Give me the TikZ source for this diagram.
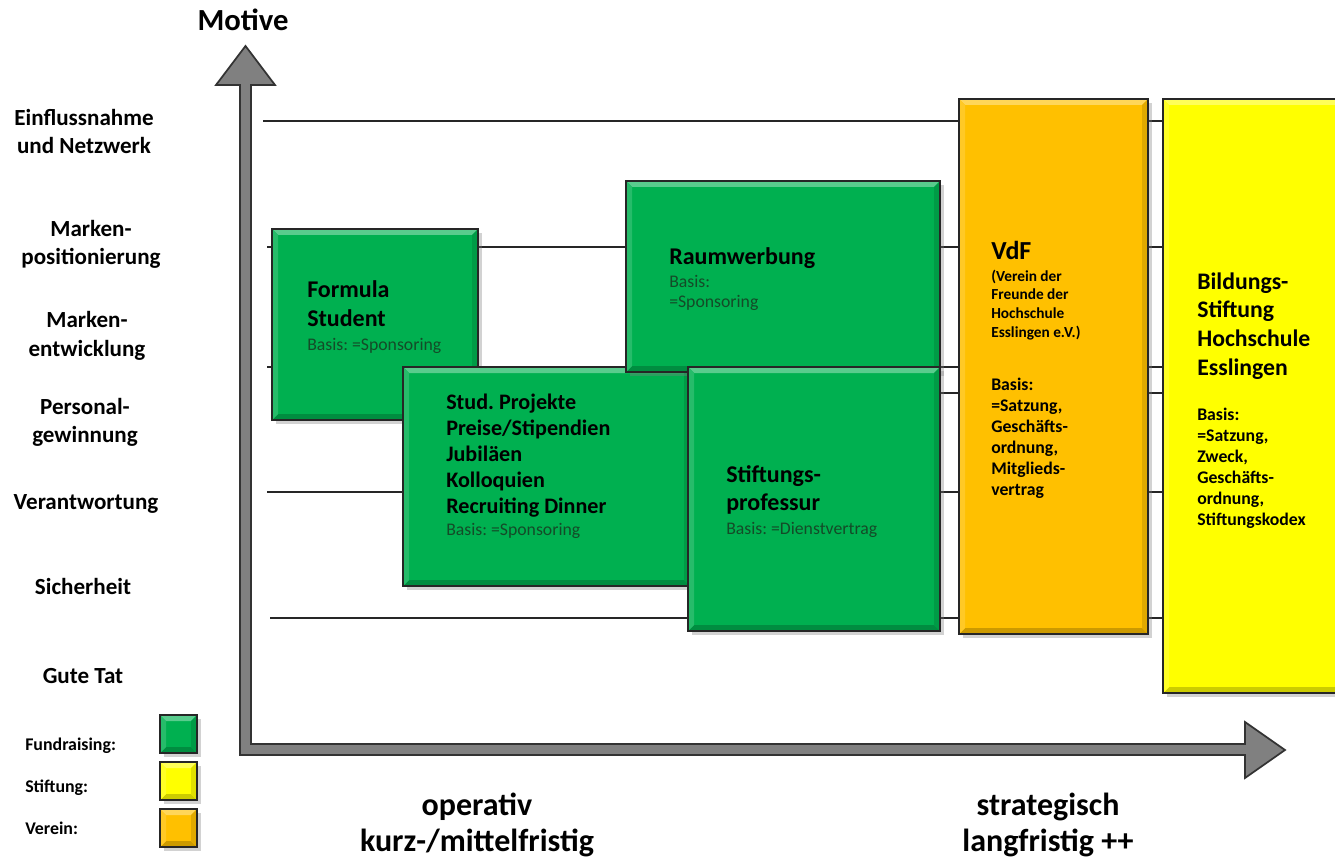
\documentclass[tikz,border=0pt]{standalone}
\usepackage{fontspec}
\setmainfont{Carlito}
\usetikzlibrary{shadows}
\frenchspacing

\definecolor{fundgreen}{RGB}{0,176,80}
\definecolor{vereinorange}{RGB}{255,192,0}
\definecolor{stiftyellow}{RGB}{255,255,0}
\definecolor{basisgreen}{RGB}{20,75,40}
\definecolor{axisgray}{RGB}{128,128,128}

% bevelled box: top-left (#1,#2), bottom-right (#3,#4), fill colour #5
\newcommand{\bevelbox}[5]{%
  \fill[#5,drop shadow={opacity=0.35,shadow xshift=3pt,shadow yshift=-3pt}] (#1,#2) rectangle (#3,#4);
  \fill[#5!65!white] (#1,#2) -- (#3,#2) -- (#3-6,#2+6) -- (#1+6,#2+6) -- cycle;
  \fill[#5!80!black] (#1,#4) -- (#3,#4) -- (#3-6,#4-6) -- (#1+6,#4-6) -- cycle;
  \fill[#5!88!black] (#3,#2) -- (#3,#4) -- (#3-6,#4-6) -- (#3-6,#2+6) -- cycle;
  \fill[#5!85!white] (#1,#2) -- (#1,#4) -- (#1+6,#4-6) -- (#1+6,#2+6) -- cycle;
  \draw[line width=1.3pt,black!85] (#1,#2) rectangle (#3,#4);
}

\begin{document}
\begin{tikzpicture}[x=0.75pt,y=-0.75pt,
  motiv/.style={font={\bfseries\fontsize{17.3}{21}\selectfont},align=center,anchor=base,inner sep=0},
  ttl/.style={font={\bfseries\fontsize{18}{21}\selectfont},align=left,anchor=base west,inner sep=0},
  bigttl/.style={font={\bfseries\fontsize{17.8}{21.4}\selectfont},align=left,anchor=base west,inner sep=0},
  basis/.style={font={\fontsize{13.3}{15.75}\selectfont},text=basisgreen,align=left,anchor=base west,inner sep=0},
  basisbf/.style={font={\bfseries\fontsize{13.3}{15.75}\selectfont},align=left,anchor=base west,inner sep=0},
  legend/.style={font={\bfseries\fontsize{13.4}{15}\selectfont},anchor=base west,inner sep=0},
  timeline/.style={font={\bfseries\fontsize{24}{27}\selectfont},align=center,anchor=base,inner sep=0},
  motivline/.style={line width=1.2pt,black!85}]

  \useasboundingbox (0,0) rectangle (1335,859);
  \fill[white] (0,0) rectangle (1335,859);

  % Motive levels
  \draw[motivline] (263,121) -- (1345,121);
  \draw[motivline] (267,247) -- (1345,247);
  \draw[motivline] (267,367) -- (1345,367);
  \draw[motivline] (480,393) -- (1345,393);
  \draw[motivline] (267,492) -- (1345,492);
  \draw[motivline] (270,618) -- (1345,618);

  % Axes as one block arrow
  \filldraw[fill=axisgray,draw=black!80,line width=1.3pt,line join=miter]
    (240,85) -- (216,85) -- (245.5,46) -- (275,85) -- (251,85) -- (251,744)
    -- (1245,744) -- (1245,722) -- (1285,750) -- (1245,778) -- (1245,755)
    -- (240,755) -- cycle;

  % Fundraising boxes
  \bevelbox{272}{229}{478}{420}{fundgreen}
  \bevelbox{403}{367}{690}{586}{fundgreen}
  \bevelbox{626}{181}{940}{372}{fundgreen}
  \bevelbox{688}{367}{940}{631}{fundgreen}

  % Verein and Stiftung
  \bevelbox{959}{99}{1148}{634}{vereinorange}
  \bevelbox{1163}{99}{1360}{693}{stiftyellow}

  % Legend squares
  \bevelbox{160}{715}{197}{753}{fundgreen}
  \bevelbox{160}{762}{197}{800}{stiftyellow}
  \bevelbox{160}{809}{197}{847}{vereinorange}

  % Axis titles (multi-line nodes sit on their last baseline)
  \node[font={\bfseries\fontsize{23}{26}\selectfont},anchor=base,inner sep=0] (motive) at (243,31) {Motive};
  \node[timeline] (operativ) at (477,851) {operativ\\kurz-/mittelfristig};
  \node[timeline] (strategisch) at (1048,851) {strategisch\\langfristig ++};

  % Motive labels
  \node[motiv] (einfluss) at (84,154) {Einflussnahme\\und Netzwerk};
  \node[motiv] (markpos) at (91,265) {Marken-\\positionierung};
  \node[motiv] (markent) at (87,356) {Marken-\\entwicklung};
  \node[motiv] (personal) at (85,442) {Personal-\\gewinnung};
  \node[motiv] (verantw) at (86,509) {Verantwortung};
  \node[motiv] (sicher) at (83,594) {Sicherheit};
  \node[motiv] (gutetat) at (83,683) {Gute Tat};

  % Box texts
  \node[ttl] (formula) at (307,326) {Formula\\Student};
  \node[basis] (formulab) at (307,350) {Basis: =Sponsoring};
  \node[ttl] (raum) at (669,265) {Raumwerbung};
  \node[basis] (raumb) at (669,308) {Basis:\\=Sponsoring};
  \node[ttl,font={\bfseries\fontsize{16.6}{19.5}\selectfont}] (stud) at (446,513)
    {Stud. Projekte\\Preise/Stipendien\\Jubiläen\\Kolloquien\\Recruiting Dinner};
  \node[basis] (studb) at (446,535) {Basis: =Sponsoring};
  \node[ttl] (stiftprof) at (726,510) {Stiftungs-\\professur};
  \node[basis] (stiftprofb) at (726,534) {Basis: =Dienstvertrag};

  \node[bigttl,font={\bfseries\fontsize{19.5}{21.4}\selectfont}] (vdf) at (991,260) {VdF};
  \node[basisbf,font={\bfseries\fontsize{11.5}{13.9}\selectfont}] (vdfname) at (991,337)
    {(Verein der\\Freunde der\\Hochschule\\Esslingen e.V.)};
  \node[basisbf] (vdfb) at (991,495) {Basis:\\=Satzung,\\Geschäfts-\\ordnung,\\Mitglieds-\\vertrag};

  \node[bigttl] (bildung) at (1197,375) {Bildungs-\\Stiftung\\Hochschule\\Esslingen};
  \node[basisbf] (bildungb) at (1197,525) {Basis:\\=Satzung,\\Zweck,\\Geschäfts-\\ordnung,\\Stiftungskodex};

  % Legend
  \node[legend] (lfund) at (25,750) {Fundraising:};
  \node[legend] (lstift) at (25,792) {Stiftung:};
  \node[legend] (lverein) at (25,834) {Verein:};
\end{tikzpicture}
\end{document}
